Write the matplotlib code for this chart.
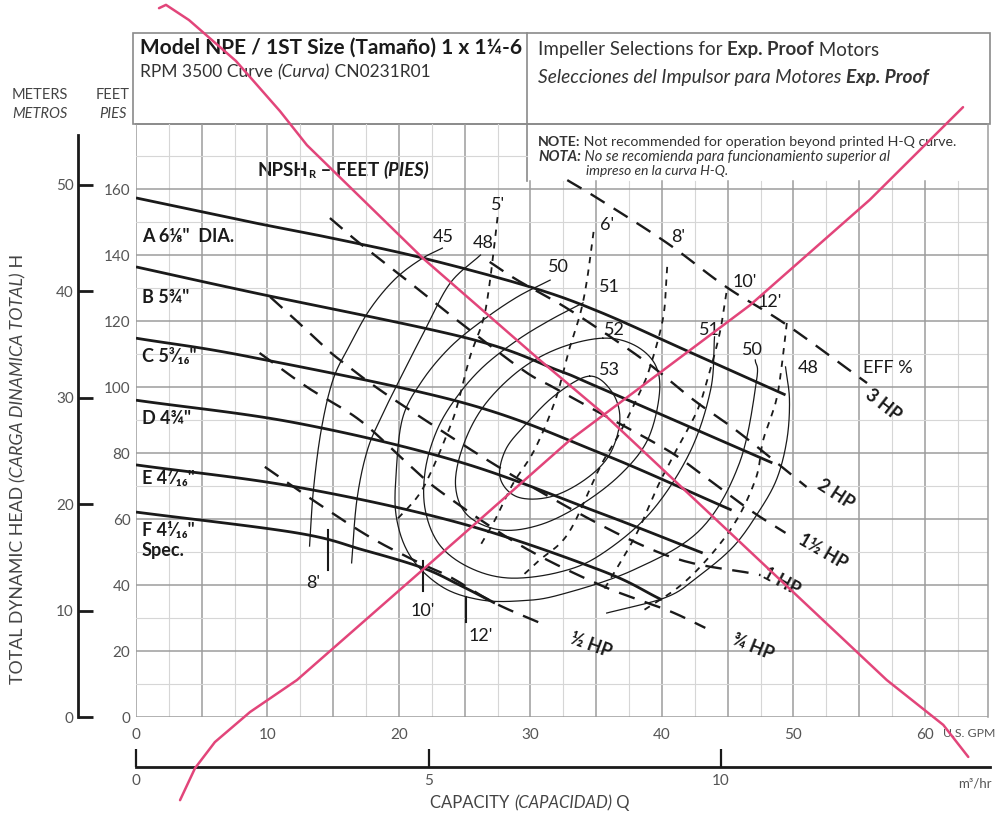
import numpy as np
import matplotlib
matplotlib.use("Agg")
import matplotlib.pyplot as plt
from matplotlib.patches import Rectangle

FONT = ['Lato', 'DejaVu Sans']
plt.rcParams['font.family'] = FONT

# ---------------- axes scales ----------------
gpm_ticks = [0, 10, 20, 30, 40, 50, 60]
feet_ticks = [0, 20, 40, 60, 80, 100, 120, 140, 160]
meter_ticks = [0, 10, 20, 30, 40, 50]
m3h_ticks = [0, 5, 10]
gpm_max, feet_max = 64.8, 179.7
m_per_ft = 0.31
gpm_per_m3h = 4.45
note_q, note_h = 29.73, 162.4

# ---------------- H-Q curves (GPM, feet) ----------------
a_q = [0, 8.7, 14.8, 21.8, 30.0, 35.3, 42.1, 49.4]
a_h = [157.3, 150.0, 145.2, 139.1, 130.3, 122.7, 110.6, 97.6]
b_q = [0, 8.7, 25.2, 32.0, 35.3, 48.4]
b_h = [136.4, 128.8, 114.8, 105.2, 99.7, 77.0]
c_q = [0, 8.7, 24.9, 35.3, 45.3]
c_h = [114.8, 109.1, 95.2, 80.0, 62.7]
d_q = [0, 12.2, 24.6, 35.3, 43.1]
d_h = [96.0, 89.1, 77.3, 61.8, 49.7]
e_q = [0, 12.2, 24.6, 35.3, 40.0]
e_h = [76.4, 69.7, 58.8, 44.5, 35.5]
f_q = [0, 12.2, 17.3, 21.8, 24.6, 27.3]
f_h = [62.1, 55.8, 50.6, 45.2, 40.0, 34.5]
impeller_labels = ['A 6\u215b"  DIA.', 'B 5\u00be"', 'C 5\u00b3\u2044\u2081\u2086"',
                   'D 4\u00be"', 'E 4\u2077\u2044\u2081\u2086"', 'F 4\u00b9\u2044\u2081\u2086"\nSpec.']
impeller_label_h = [145.5, 127.0, 109.1, 90.6, 72.4, 53.5]

# ---------------- efficiency contours (%) ----------------
eff45_q = [23.3, 21.7, 19.7, 17.8, 16.3, 15.0, 14.1, 13.5, 13.2]
eff45_h = [142.1, 138.8, 132.7, 123.6, 113.0, 102.4, 87.3, 69.1, 51.8]
eff48l_q = [26.2, 23.9, 22.1, 20.3, 18.8, 17.6, 16.8, 16.4]
eff48l_h = [140.0, 131.5, 118.2, 104.2, 92.1, 80.9, 65.8, 46.7]
eff48r_q = [49.4, 49.7, 49.5, 48.7, 47.2, 45.4, 42.9, 40.4, 35.8]
eff48r_h = [106.1, 96.1, 83.9, 71.8, 61.2, 51.5, 43.0, 36.4, 31.5]
eff50_q = [31.5, 29.0, 26.4, 23.9, 21.8, 20.3, 19.8, 19.8, 20.9, 23.3, 26.2, 29.2,
           32.2, 37.8, 42.9, 45.9, 47.2, 47.1]
eff50_h = [132.4, 127.3, 120.3, 112.1, 102.1, 90.9, 74.8, 60.6, 48.5, 39.4, 35.5, 35.2,
           37.0, 44.5, 56.7, 77.0, 102.1, 108.2]
eff51_q = [34.0, 31.5, 29.0, 26.4, 24.4, 22.9, 22.0, 22.0, 23.1, 25.4, 28.4, 32.2,
           35.3, 39.1, 42.1, 43.7, 44.0]
eff51_h = [125.5, 120.3, 114.2, 106.1, 97.0, 87.0, 74.8, 62.7, 52.1, 45.2, 42.1, 43.9,
           49.1, 61.8, 80.0, 99.1, 115.2]
eff52_q = [35.5, 37.9, 39.5, 39.8, 38.9, 36.8, 33.8, 30.7, 27.7, 25.2, 24.3, 24.9,
           26.5, 29.2, 32.2]
eff52_h = [114.8, 112.7, 106.7, 97.6, 83.9, 73.3, 64.2, 58.2, 56.7, 61.2, 70.3, 82.4,
           94.5, 105.2, 111.8]
eff53_q = [34.5, 36.2, 36.8, 36.0, 34.1, 31.5, 29.0, 27.7, 28.1, 29.6, 31.9]
eff53_h = [103.3, 98.5, 90.0, 79.4, 71.8, 66.7, 66.7, 72.4, 80.9, 88.5, 97.6]
eff_labels = ['45', '48', '50', '51', '52', '53', '51', '50', '48', 'EFF %']
eff_label_q = [23.35, 26.4, 32.1, 36.0, 36.4, 36.0, 43.6, 46.9, 51.1, 57.2]
eff_label_h = [145.5, 143.6, 136.4, 130.3, 117.3, 105.2, 117.3, 111.2, 105.8, 105.8]

# ---------------- motor power lines (HP) ----------------
hp3_q = [32.8, 35.3, 40.4, 44.9, 49.5, 55.6]
hp3_h = [162.7, 156.7, 143.6, 130.3, 118.8, 101.2]
hp2_q = [26.9, 29.0, 33.0, 38.6, 42.4, 45.9, 51.0]
hp2_h = [137.9, 132.4, 123.3, 108.2, 96.1, 86.1, 69.7]
hp15_q = [14.75, 17.0, 20.3, 24.4, 29.4, 31.7, 35.3, 40.4, 42.9, 46.7, 49.4]
hp15_h = [151.2, 143.6, 133.3, 120.3, 105.2, 100.0, 92.1, 80.9, 73.9, 62.7, 55.8]
hp1_q = [10.2, 11.9, 13.8, 15.5, 20.0, 30.0, 40.0, 47.5]
hp1_h = [127.3, 121.2, 114.2, 108.2, 95.2, 70.0, 49.5, 43.0]
hp075_q = [9.4, 13.0, 17.0, 20.6, 23.3, 29.2, 35.3, 40.4, 43.3]
hp075_h = [110.3, 100.0, 90.0, 77.0, 67.9, 52.1, 40.0, 32.4, 27.0]
hp05_q = [9.8, 13.8, 17.8, 21.4, 23.9, 27.3, 31.1]
hp05_h = [75.8, 64.8, 54.5, 47.0, 42.4, 34.5, 27.9]
hp_labels = ['3 HP', '2 HP', '1\u00bd HP', '1 HP', '\u00be HP', '\u00bd HP']
hp_label_q = [56.8, 53.2, 52.2, 49.1, 46.9, 34.6]
hp_label_h = [94.5, 67.5, 50.0, 40.9, 21.2, 21.8]
hp_label_rot = [-38, -33, -30, -28, -22, -20]

# ---------------- NPSH required lines (feet) ----------------
npsh5_q = [27.5, 26.9, 26.4, 25.4, 24.4, 23.7, 22.4, 21.4, 19.8]
npsh5_h = [151.5, 131.5, 120.3, 109.1, 93.9, 86.1, 73.9, 66.7, 59.7]
npsh6_q = [34.8, 34.3, 33.8, 33.0, 31.9, 30.3, 28.7, 27.3, 26.2]
npsh6_h = [147.0, 132.4, 122.4, 112.1, 96.1, 80.9, 70.9, 59.7, 52.1]
npsh8_q = [40.4, 40.1, 39.1, 38.3, 36.8, 35.3, 32.9, 30.7, 29.2]
npsh8_h = [136.4, 121.2, 106.1, 98.2, 86.1, 75.8, 55.8, 47.6, 42.1]
npsh10_q = [44.9, 44.4, 43.6, 42.7, 41.1, 39.8, 38.0, 35.5]
npsh10_h = [128.5, 116.4, 104.2, 93.0, 80.9, 70.9, 55.0, 38.0]
npsh12_q = [49.5, 49.2, 48.7, 47.7, 47.1, 45.2, 41.9, 38.3]
npsh12_h = [119.4, 109.1, 96.1, 83.9, 71.8, 56.7, 41.5, 31.5]
npsh_top_labels = ["5'", "6'", "8'", "10'", "12'"]
npsh_top_q = [27.5, 35.8, 41.2, 46.3, 48.2]
npsh_top_h = [155.2, 149.1, 145.5, 131.8, 125.8]
# NPSH marks on the smallest impeller curve
npsh_tick_labels = ["8'", "10'", "12'"]
npsh_tick_q = [14.6, 21.8, 25.1]
npsh_tick_top = [56.7, 47.3, 36.4]
npsh_tick_bot = [44.5, 38.2, 28.8]
npsh_label_q = [13.5, 21.8, 26.2]
npsh_label_h = [40.5, 32.0, 24.6]

# hand-drawn marker strokes (GPM, feet), running past the grid
mark1_q = [1.75, 2.28, 4.03, 7.60, 10.95, 13.0, 21.8, 30.7, 35.5, 57.1, 61.4, 63.3]
mark1_h = [214.8, 215.8, 211.2, 198.8, 183.6, 173.3, 139.1, 108.2, 92.1, 11.2, -2.4, -12.1]
mark2_q = [3.35, 4.49, 6.0, 8.67, 12.24, 24.64, 33.0, 39.1, 46.7, 55.8, 62.9]
mark2_h = [-25.2, -15.5, -7.6, 1.5, 11.2, 54.5, 83.9, 102.1, 124.8, 156.7, 184.8]


def smooth(q, h, closed=False, n=24):
    """Catmull-Rom spline through (q, h), computed in page-like proportions."""
    sx = 4.0
    p = np.column_stack([np.asarray(q, float) * sx, np.asarray(h, float)])
    if closed:
        p = np.vstack([p[-1], p, p[0], p[1]])
    else:
        p = np.vstack([2 * p[0] - p[1], p, 2 * p[-1] - p[-2]])
    out = []
    t = np.linspace(0, 1, n, endpoint=False)[:, None]
    for i in range(1, len(p) - 2):
        p0, p1, p2, p3 = p[i - 1], p[i], p[i + 1], p[i + 2]
        out.append(0.5 * (2 * p1 + (-p0 + p2) * t + (2 * p0 - 5 * p1 + 4 * p2 - p3) * t ** 2
                          + (-p0 + 3 * p1 - 3 * p2 + p3) * t ** 3))
    out.append(p[-2][None, :])
    out = np.vstack(out)
    return out[:, 0] / sx, out[:, 1]


W, H = 998, 813
fig = plt.figure(figsize=(W / 100, H / 100), dpi=100)
fig.patch.set_facecolor('white')
renderer = fig.canvas.get_renderer()

# page layer in pixel units (header boxes, captions)
lay = fig.add_axes([0, 0, 1, 1], zorder=0)
lay.set_xlim(0, W)
lay.set_ylim(H, 0)
lay.axis('off')

L, R, B, T = 136, 988, 717, 124
ax = fig.add_axes([L / W, (H - B) / H, (R - L) / W, (B - T) / H], zorder=2)
ax.set_xlim(0, gpm_max)
ax.set_ylim(0, feet_max)
ax.patch.set_alpha(0)
for s in ax.spines.values():
    s.set_visible(False)

INK = '#1a1a1a'
GRID = '#9c9c9c'
GRID_LIGHT = '#d6d6d6'
TICK = '#555555'
TXT = '#333333'

# grid (the note panel in the upper right stays clear)
for g in np.arange(0, gpm_max, 2.5):
    major = abs(g / 5 - round(g / 5)) < 1e-6
    top = note_h if g > note_q else feet_max
    ax.plot([g, g], [0, top], color=GRID if major else GRID_LIGHT, lw=1.1 if major else 0.8, zorder=0)
for g in np.arange(0, feet_max, 10):
    major = abs(g / 20 - round(g / 20)) < 1e-6
    right = note_q if g > note_h else gpm_max
    ax.plot([0, right], [g, g], color=GRID if major else GRID_LIGHT, lw=1.1 if major else 0.8, zorder=0)
ax.plot([gpm_max, gpm_max], [0, feet_max], color=GRID, lw=1.1, zorder=0, clip_on=False)

ax.set_xticks(gpm_ticks)
ax.set_xticklabels([str(v) for v in gpm_ticks])
ax.set_yticks(feet_ticks)
ax.set_yticklabels([str(v) for v in feet_ticks])
ax.tick_params(axis='x', length=0, labelsize=11, labelcolor=TICK, pad=8)
ax.tick_params(axis='y', length=0, labelsize=11, labelcolor=TICK, pad=4)
ax.text(61.35, -4.9, 'U.S. GPM', fontsize=8.8, color=TICK, ha='left', va='center', clip_on=False)

# H-Q curves
for q, h in [(a_q, a_h), (b_q, b_h), (c_q, c_h), (d_q, d_h), (e_q, e_h), (f_q, f_h)]:
    xs, ys = smooth(q, h)
    ax.plot(xs, ys, color=INK, lw=2.0, zorder=5, solid_capstyle='butt')
for lab, hh in zip(impeller_labels, impeller_label_h):
    ax.text(0.45, hh, lab, fontsize=13, fontweight='bold', color=INK, va='center', ha='left',
            linespacing=1.15, zorder=6)

# efficiency contours
for q, h, closed in [(eff45_q, eff45_h, False), (eff48l_q, eff48l_h, False), (eff48r_q, eff48r_h, False),
                     (eff50_q, eff50_h, False), (eff51_q, eff51_h, False), (eff52_q, eff52_h, True),
                     (eff53_q, eff53_h, True)]:
    xs, ys = smooth(q, h, closed=closed)
    ax.plot(xs, ys, color=INK, lw=0.9, zorder=4)
for lab, q, h in zip(eff_labels, eff_label_q, eff_label_h):
    ax.text(q, h, lab, fontsize=13, color=INK, ha='center', va='center', zorder=6)

# power lines
for q, h in [(hp3_q, hp3_h), (hp2_q, hp2_h), (hp15_q, hp15_h), (hp1_q, hp1_h),
             (hp075_q, hp075_h), (hp05_q, hp05_h)]:
    xs, ys = smooth(q, h)
    ax.plot(xs, ys, color=INK, lw=1.7, dashes=(7, 4.5), zorder=4)
for lab, q, h, r in zip(hp_labels, hp_label_q, hp_label_h, hp_label_rot):
    ax.text(q, h, lab, fontsize=13, fontweight='bold', color=INK, rotation=r,
            ha='center', va='center', rotation_mode='anchor', zorder=6)

# NPSH required lines
for q, h in [(npsh5_q, npsh5_h), (npsh6_q, npsh6_h), (npsh8_q, npsh8_h),
             (npsh10_q, npsh10_h), (npsh12_q, npsh12_h)]:
    xs, ys = smooth(q, h)
    ax.plot(xs, ys, color=INK, lw=1.3, dashes=(3.5, 3.5), zorder=4)
for lab, q, h in zip(npsh_top_labels, npsh_top_q, npsh_top_h):
    ax.text(q, h, lab, fontsize=13, color=INK, ha='center', va='center', zorder=6)
for q, t, b in zip(npsh_tick_q, npsh_tick_top, npsh_tick_bot):
    ax.plot([q, q], [b, t], color=INK, lw=1.5, zorder=5)
for lab, q, h in zip(npsh_tick_labels, npsh_label_q, npsh_label_h):
    ax.text(q, h, lab, fontsize=13, color=INK, ha='center', va='center', zorder=6)

# marker strokes
for q, h in [(mark1_q, mark1_h), (mark2_q, mark2_h)]:
    ax.plot(q, h, color='#e2457a', lw=1.8, zorder=7, clip_on=False,
            solid_joinstyle='round', solid_capstyle='round')

# meters scale
ax_m = fig.add_axes([78 / W, (H - B) / H, 1e-4, (B - 135) / H], zorder=1)
ax_m.set_ylim(0, (B - 135) / (B - T) * feet_max * m_per_ft)
ax_m.set_xticks([])
ax_m.set_yticks(meter_ticks)
for s in ['top', 'right', 'bottom']:
    ax_m.spines[s].set_visible(False)
ax_m.spines['left'].set_linewidth(2.0)
ax_m.spines['left'].set_color(INK)
ax_m.tick_params(axis='y', direction='in', length=11, width=2.0, color=INK,
                 labelsize=11, labelcolor=TICK, pad=3)

# cubic metres per hour scale
ax_c = fig.add_axes([L / W, (H - 767) / H, (990 - L) / W, 1e-4], zorder=1)
ax_c.set_xlim(0, (990 - L) / (R - L) * gpm_max / gpm_per_m3h)
ax_c.set_yticks([])
ax_c.set_xticks(m3h_ticks)
for s in ['top', 'right', 'left']:
    ax_c.spines[s].set_visible(False)
ax_c.spines['bottom'].set_linewidth(2.0)
ax_c.spines['bottom'].set_color(INK)
ax_c.tick_params(axis='x', direction='in', length=13, width=1.6, color=INK,
                 labelsize=11, labelcolor=TICK, pad=5)
lay.text(975, 783, 'm\u00b3/hr', fontsize=9.5, color=TICK, ha='center', va='center')


def run(x, y, parts, size, color=INK, ha='left', va='center', rot=0):
    """Write text pieces of different styles one after another.
    parts: (text, weight, style[, size, drop])"""
    items = []
    for p in parts:
        s, w, st = p[:3]
        sz = p[3] if len(p) > 3 else size
        dy = p[4] if len(p) > 4 else 0
        t = lay.text(0, 0, s.replace(' ', '\u00a0'), fontsize=sz, fontweight=w, fontstyle=st)
        items.append((s, w, st, sz, dy, t.get_window_extent(renderer).width))
        t.remove()
    total = sum(i[-1] for i in items)
    pos = {'left': 0, 'center': -total / 2, 'right': -total}[ha]
    for s, w, st, sz, dy, wd in items:
        if rot == 0:
            lay.text(x + pos, y + dy, s.replace(' ', '\u00a0'), fontsize=sz, fontweight=w,
                     fontstyle=st, color=color, ha='left', va=va)
        else:
            lay.text(x + dy, y - pos, s.replace(' ', '\u00a0'), fontsize=sz, fontweight=w,
                     fontstyle=st, color=color, ha='left', va=va, rotation=90,
                     rotation_mode='anchor')
        pos += wd


# header boxes and note panel
BOX = '#8a8a8a'
lay.add_patch(Rectangle((133, 33), 857, 91, facecolor='none', edgecolor=BOX, lw=1.2))
lay.plot([527, 527], [33, 181], color=BOX, lw=1.2)
lay.plot([136, 988], [124, 124], color=BOX, lw=1.2)

run(140, 48, [('Model NPE / 1ST Size (Tama\u00f1o) 1 x 1\u00bc-6', 'bold', 'normal')], 15)
run(140, 72, [('RPM 3500 Curve ', 'normal', 'normal'), ('(Curva)', 'normal', 'italic'),
              (' CN0231R01', 'normal', 'normal')], 12.5, color=TXT)
run(538, 50, [('Impeller Selections for ', 'normal', 'normal'), ('Exp. Proof', 'bold', 'normal'),
              (' Motors', 'normal', 'normal')], 13.5, color=TXT)
run(538, 77, [('Selecciones del Impulsor para Motores ', 'normal', 'italic'),
              ('Exp. Proof', 'bold', 'italic')], 13.8, color=TXT)
run(538, 142, [('NOTE:', 'bold', 'normal'),
               (' Not recommended for operation beyond printed H-Q curve.', 'normal', 'normal')],
    10.2, color=TXT)
run(538, 157, [('NOTA:', 'bold', 'italic'),
               (' No se recomienda para funcionamiento superior al', 'normal', 'italic')],
    10.5, color=TXT)
run(586, 171, [('impreso en la curva H-Q.', 'normal', 'italic')], 9.9, color=TXT)

run(258, 170, [('NPSH', 'bold', 'normal'), ('R', 'bold', 'normal', 8, 5),
               (' \u2013 FEET ', 'bold', 'normal'), ('(PIES)', 'bold', 'italic')], 13.5)

# axis captions
run(40, 95, [('METERS', 'normal', 'normal')], 10.5, color='#444444', ha='center')
run(40, 114, [('METROS', 'normal', 'italic')], 10.5, color='#444444', ha='center')
run(113, 95, [('FEET', 'normal', 'normal')], 10.5, color='#444444', ha='center')
run(113, 114, [('PIES', 'normal', 'italic')], 10.5, color='#444444', ha='center')
run(18, 469, [('TOTAL DYNAMIC HEAD ', 'normal', 'normal'), ('(CARGA DINAMICA TOTAL)', 'normal', 'italic'),
              (' H', 'normal', 'normal')], 12.8, color='#444444', ha='center', rot=90)
run(530, 803, [('CAPACITY ', 'normal', 'normal'), ('(CAPACIDAD)', 'normal', 'italic'),
               (' Q', 'normal', 'normal')], 12, color='#444444', ha='center')

fig.savefig('out.png', dpi=100, facecolor='white')
